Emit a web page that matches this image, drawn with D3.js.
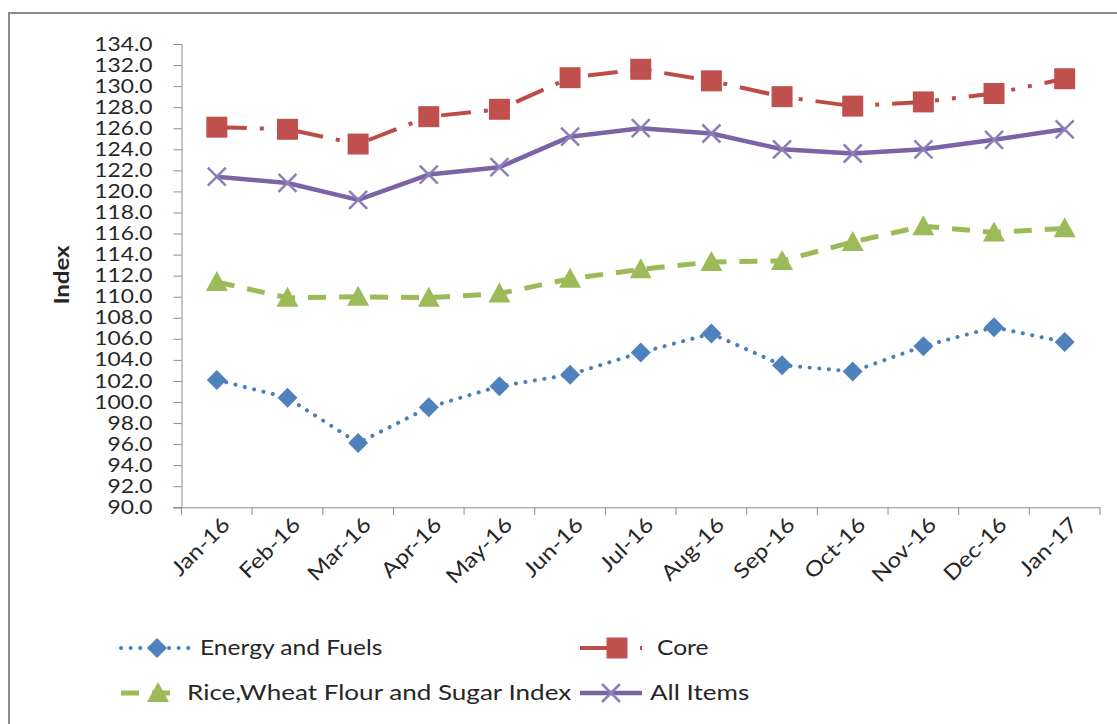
<!DOCTYPE html>
<html><head><meta charset="utf-8">
<script src="https://cdn.jsdelivr.net/npm/d3@7"></script>
<style>
html,body{margin:0;padding:0;background:#fff;}
svg text{font-family:Lato,"Open Sans",sans-serif;fill:#262626;}
</style></head>
<body>
<svg id="chart" width="1117" height="724"></svg>
<script>
const months = ["Jan-16","Feb-16","Mar-16","Apr-16","May-16","Jun-16","Jul-16","Aug-16","Sep-16","Oct-16","Nov-16","Dec-16","Jan-17"];
const energyFuels = [102.1,100.4,96.1,99.5,101.5,102.6,104.7,106.5,103.5,102.9,105.3,107.1,105.7];
const core = [126.1,125.9,124.5,127.1,127.8,130.8,131.6,130.5,129.0,128.1,128.5,129.3,130.7];
const riceWheatSugar = [111.4,109.9,110.0,109.9,110.3,111.7,112.6,113.3,113.4,115.2,116.7,116.1,116.5];
const allItems = [121.4,120.8,119.2,121.6,122.3,125.2,126.0,125.5,124.0,123.6,124.0,124.9,125.9];
const yTicks = d3.range(90, 134.01, 2);
const seriesNames = ["Energy and Fuels","Core","Rice,Wheat Flour and Sugar Index","All Items"];

const svg = d3.select("#chart");
svg.append("rect").attr("x",9).attr("y",13).attr("width",1120).attr("height",730)
  .attr("fill","#fff").attr("stroke","#8c8c8c").attr("stroke-width",2);

// widen glyphs horizontally (reference text is stretched)
function stretch(sel, f){
  sel.each(function(){
    const L = this.getComputedTextLength();
    d3.select(this).attr("textLength", L*f).attr("lengthAdjust","spacingAndGlyphs");
  });
}

const x = d3.scaleBand().domain(months).range([181.5,1100]);
const y = d3.scaleLinear().domain([90,134]).range([507.3,44]);

// y axis
const yAxis = svg.append("g").attr("transform","translate(181.5,0)")
  .call(d3.axisLeft(y).tickValues(yTicks).tickFormat(d3.format(".1f")).tickSizeOuter(0).tickSize(8).tickPadding(21));
yAxis.select(".domain").attr("stroke","#8c8c8c");
yAxis.selectAll(".tick line").attr("stroke","#8c8c8c");
yAxis.selectAll("text").style("font-size","19px").attr("fill","#262626");
stretch(yAxis.selectAll("text"), 1.2);

// x axis
const xAxis = svg.append("g").attr("transform","translate(0,507.3)")
  .call(d3.axisBottom(x).tickSize(0).tickSizeOuter(0).tickFormat(""));
xAxis.select(".domain").attr("stroke","#8c8c8c").attr("d","M173,0.5H1100");
xAxis.selectAll(".tick").remove();
const bounds = months.map(m => x(m)).concat([x.range()[1]]);
svg.append("g").selectAll("line").data(bounds).join("line")
  .attr("x1",d=>d).attr("x2",d=>d).attr("y1",507.3).attr("y2",515)
  .attr("stroke","#8c8c8c");
const xl = svg.append("g").selectAll("text").data(months).join("text")
  .attr("transform",d=>`translate(${x(d)+x.bandwidth()/2+9},${521}) rotate(-45)`)
  .attr("text-anchor","end").attr("dy","0.35em")
  .style("font-size","21px").text(d=>d);
stretch(xl, 1.15);

// y title
const yt = svg.append("text").attr("transform","translate(69,275) rotate(-90)")
  .attr("text-anchor","middle").style("font-size","20px").style("font-weight","bold").attr("fill","#000").text("Index");
stretch(yt, 1.2);

const cx = m => x(m) + x.bandwidth()/2;
const line = d3.line().x((d,i)=>cx(months[i])).y(d=>y(d));

const styles = [
  {data:energyFuels, color:"#4a7ebb", width:4, dash:"0.1 9.5", cap:"round", marker:"diamond", mfill:"#4f81bd"},
  {data:core, color:"#be4b48", width:4, dash:"30 13 4 13 4 13", cap:"butt", marker:"square", mfill:"#c0504d"},
  {data:riceWheatSugar, color:"#9bbb59", width:5, dash:"18 13", cap:"butt", marker:"triangle", mfill:"#9bbb59"},
  {data:allItems, color:"#7e62a6", width:4.5, dash:null, cap:"butt", marker:"x", mfill:"#8a80b8"}
];

function markerPath(type){
  if(type==="diamond") return "M0,-10L10,0L0,10L-10,0Z";
  if(type==="square") return "M-10.5,-10.5H10.5V10.5H-10.5Z";
  if(type==="triangle") return "M0,-11L11,9H-11Z";
  return "M-9,-9L9,9M-9,9L9,-9";
}
function drawMarker(g, type, px, py, s){
  const p = g.append("path").attr("d", markerPath(type)).attr("transform",`translate(${px},${py})`);
  if(type==="x") p.attr("fill","none").attr("stroke",s.mfill).attr("stroke-width",2.5);
  else p.attr("fill",s.mfill).attr("stroke","none");
}

const plot = svg.append("g");
styles.forEach(s=>{
  plot.append("path").datum(s.data).attr("d",line).attr("fill","none")
    .attr("stroke",s.color).attr("stroke-width",s.width)
    .attr("stroke-dasharray",s.dash).attr("stroke-linecap",s.cap).attr("stroke-linejoin","round");
});
styles.forEach(s=>{
  const g = plot.append("g");
  s.data.forEach((v,i)=>drawMarker(g, s.marker, cx(months[i]), y(v), s));
});

// legend
const legendPos = [
  {lx1:121,lx2:192,mx:157,ty:648,tx:200,f:1.17},
  {lx1:580,lx2:642,mx:617,ty:648,tx:657,f:1.17},
  {lx1:121,lx2:178,mx:158,ty:693,tx:187,f:1.24},
  {lx1:580,lx2:642,mx:611,ty:693,tx:650,f:1.24}
];
styles.forEach((s,i)=>{
  const p = legendPos[i];
  const g = svg.append("g");
  g.append("line").attr("x1",p.lx1).attr("x2",p.lx2).attr("y1",p.ty).attr("y2",p.ty)
    .attr("stroke",s.color).attr("stroke-width",s.width)
    .attr("stroke-dasharray",s.dash).attr("stroke-linecap",s.cap);
  drawMarker(g, s.marker, p.mx, p.ty, s);
  const t = g.append("text").attr("x",p.tx).attr("y",p.ty).attr("dy","0.35em")
    .style("font-size","21px").text(seriesNames[i]);
  stretch(t, p.f);
});
</script>
</body></html>
